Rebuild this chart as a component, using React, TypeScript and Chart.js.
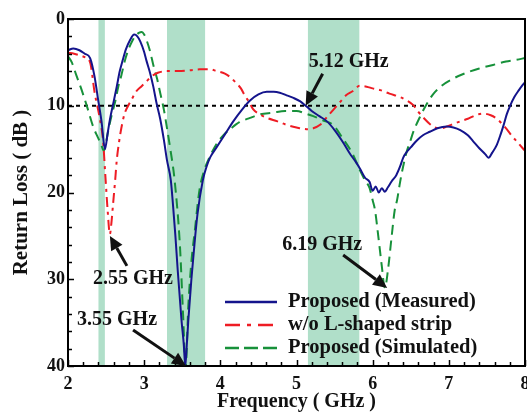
import React, { useEffect, useRef } from "react";
import { Chart, registerables } from "chart.js";

Chart.register(...registerables);

const FONT = "'Liberation Serif', 'Times New Roman', serif";
const BLUE = "#14148c";
const RED = "#ee1c24";
const GREEN = "#17913a";
const BAND = "#b0dfc9";

// ---- data ----
const xTickValues = [2, 3, 4, 5, 6, 7, 8];
const yTickValues = [0, 10, 20, 30, 40];

const measuredFreq = [
  2.0, 2.07, 2.15, 2.22, 2.29, 2.35, 2.39, 2.44, 2.485, 2.52, 2.55, 2.6, 2.64, 2.68, 2.72, 2.76, 2.81, 2.87,
  2.91, 2.95, 3.0, 3.03, 3.08, 3.12, 3.16, 3.21, 3.26, 3.3, 3.35, 3.38, 3.41, 3.44, 3.49, 3.52, 3.54, 3.56,
  3.58, 3.62, 3.66, 3.7, 3.77, 3.82, 3.87, 3.95, 4.06, 4.17, 4.28, 4.39, 4.5, 4.61, 4.7, 4.78, 4.87, 4.96,
  5.05, 5.12, 5.2, 5.3, 5.4, 5.5, 5.61, 5.7, 5.78, 5.83, 5.9, 5.96, 6.0, 6.04, 6.08, 6.12, 6.16, 6.2, 6.25,
  6.31, 6.36, 6.4, 6.45, 6.5, 6.58, 6.66, 6.75, 6.85, 6.97, 7.06, 7.15, 7.25, 7.32, 7.4, 7.48, 7.52, 7.57,
  7.63, 7.68, 7.72, 7.76, 7.8, 7.86, 7.92, 7.97, 8.0,
];
const measuredLoss = [
  3.6, 3.4, 3.6, 4.0, 4.5, 6.7, 9.0, 11.8, 15.0, 13.2, 11.6, 9.5, 7.8, 6.0, 4.7, 3.5, 2.5, 1.8,
  2.0, 2.6, 3.8, 4.8, 6.3, 7.8, 9.6, 11.5, 14.0, 16.3, 18.6, 21.6, 25.0, 28.9, 34.7, 37.5, 40.0, 37.5,
  34.7, 30.0, 26.0, 22.5, 18.6, 17.0, 15.9, 14.8, 13.3, 11.8, 10.5, 9.4, 8.7, 8.4, 8.4, 8.5, 8.8, 9.1,
  9.5, 10.0, 10.6, 11.2, 11.8, 12.8, 14.2, 15.5, 16.5, 17.2, 18.3, 18.8, 19.8, 19.3, 20.0, 19.5, 19.9, 19.4, 18.7,
  18.0, 17.0, 16.0, 15.3, 14.8, 14.0, 13.4, 13.0, 12.6, 12.4, 12.5, 12.8, 13.4, 14.1, 14.9, 15.6, 16.0, 15.4,
  14.5, 13.3, 12.2, 11.0, 10.1, 9.0, 8.2, 7.6, 7.3,
];

const noStripFreq = [
  2.0, 2.08, 2.16, 2.22, 2.29, 2.35, 2.42, 2.46, 2.49, 2.52, 2.55, 2.57, 2.59, 2.62, 2.64, 2.67, 2.7, 2.74,
  2.79, 2.84, 2.9, 2.96, 3.03, 3.1, 3.18, 3.3, 3.45, 3.6, 3.73, 3.86, 3.95, 4.06, 4.13, 4.21, 4.27, 4.32,
  4.38, 4.43, 4.52, 4.61, 4.75, 4.87, 5.0, 5.13, 5.22, 5.31, 5.4, 5.48, 5.57, 5.65, 5.74, 5.83, 5.92, 6.0,
  6.1, 6.22, 6.36, 6.45, 6.53, 6.6, 6.68, 6.75, 6.82, 6.9, 6.97, 7.06, 7.15, 7.25, 7.35, 7.45, 7.55, 7.63,
  7.7, 7.76, 7.83, 7.9, 7.97, 8.0,
];
const noStripLoss = [
  3.9, 4.0, 4.2, 4.4, 5.0, 8.5, 11.6, 14.0, 18.0, 22.0, 24.8, 23.5, 21.5, 18.5, 16.3, 14.2, 12.6, 11.0,
  10.0, 9.2, 8.3, 7.8, 7.2, 6.6, 6.2, 6.0, 6.0, 5.9, 5.8, 5.8, 6.0, 6.3, 6.7, 7.4, 8.0, 8.8,
  9.6, 10.4, 11.0, 11.4, 11.8, 12.2, 12.5, 12.7, 12.6, 12.2, 11.3, 10.5, 9.6, 8.8, 8.3, 7.7, 7.8, 8.0,
  8.2, 8.6, 9.0, 9.4, 9.9, 10.7, 11.5, 12.1, 12.5, 12.6, 12.4, 12.1, 11.8, 11.5, 11.1, 10.9, 11.1, 11.5,
  12.1, 12.7, 13.5, 14.2, 14.9, 15.2,
];

const simulatedFreq = [
  2.0, 2.05, 2.11, 2.18, 2.25, 2.33, 2.4, 2.44, 2.47, 2.5, 2.53, 2.57, 2.62, 2.66, 2.7, 2.75, 2.79, 2.84,
  2.88, 2.93, 2.97, 3.0, 3.03, 3.08, 3.12, 3.17, 3.21, 3.26, 3.3, 3.34, 3.4, 3.47, 3.51, 3.545, 3.58, 3.62,
  3.67, 3.7, 3.73, 3.79, 3.86, 3.95, 4.05, 4.13, 4.25, 4.39, 4.52, 4.69, 4.85, 5.0, 5.12, 5.22, 5.35, 5.48,
  5.61, 5.74, 5.83, 5.9, 5.96, 6.0, 6.03, 6.08, 6.12, 6.16, 6.2, 6.25, 6.29, 6.32, 6.36, 6.4, 6.45, 6.49,
  6.53, 6.62, 6.71, 6.8, 6.92, 7.05, 7.23, 7.4, 7.58, 7.75, 7.89, 8.0,
];
const simulatedLoss = [
  4.3, 5.0, 6.5, 8.2, 10.1, 12.4, 13.8, 14.6, 15.2, 14.2, 12.8, 11.2, 9.5, 7.8, 6.5, 4.7, 3.6, 2.6,
  2.0, 1.6, 1.5, 1.8, 2.4, 3.8, 5.3, 6.9, 8.5, 10.5, 12.6, 14.8, 18.6, 26.2, 33.9, 40.0, 33.0, 28.0,
  24.0, 21.5, 19.5, 17.4, 15.9, 14.4, 13.3, 12.7, 11.9, 11.4, 11.0, 10.8, 10.6, 10.6, 10.9, 11.2, 11.7, 12.2,
  13.8, 15.6, 17.4, 18.6, 19.5, 20.9, 22.0, 25.5, 28.5, 31.0, 29.0, 25.0, 22.0, 20.9, 18.8, 17.0, 15.2, 14.2,
  13.1, 11.3, 9.8, 8.6, 7.6, 6.9, 6.2, 5.7, 5.3, 4.9, 4.7, 4.5,
];

const referenceLevel = 10;

const bandStart = [2.4, 3.3, 5.15];
const bandEnd = [2.484, 3.8, 5.825];

const seriesLabels = ["Proposed (Measured)", "w/o L-shaped strip", "Proposed (Simulated)"];

const annotationText = ["5.12 GHz", "2.55 GHz", "3.55 GHz", "6.19 GHz"];
const annotationFreq = [5.12, 2.55, 3.55, 6.19];
const annotationLoss = [10, 25, 40, 31];

// ---- layout (pixel offsets from the arrow tip) ----
const annotationLayout = [
  { tail: [17, -32], label: [43, -44] },
  { tail: [17, 30], label: [23, 43] },
  { tail: [-53, -36], label: [-69, -46] },
  { tail: [-44, -33], label: [-65, -43] },
];

const toPoints = (xs: number[], ys: number[]) => xs.map((x, i) => ({ x, y: ys[i] }));

function drawArrow(ctx: CanvasRenderingContext2D, x0: number, y0: number, x1: number, y1: number) {
  const ang = Math.atan2(y1 - y0, x1 - x0);
  const headLen = 14;
  const headHalf = 6.5;
  const bx = x1 - headLen * Math.cos(ang);
  const by = y1 - headLen * Math.sin(ang);
  ctx.beginPath();
  ctx.moveTo(x0, y0);
  ctx.lineTo(bx, by);
  ctx.lineWidth = 3;
  ctx.strokeStyle = "#111";
  ctx.setLineDash([]);
  ctx.stroke();
  ctx.beginPath();
  ctx.moveTo(x1, y1);
  ctx.lineTo(bx + headHalf * Math.sin(ang), by - headHalf * Math.cos(ang));
  ctx.lineTo(bx - headHalf * Math.sin(ang), by + headHalf * Math.cos(ang));
  ctx.closePath();
  ctx.fillStyle = "#111";
  ctx.fill();
}

const decorPlugin = {
  id: "decor",
  beforeDatasetsDraw(chart: any) {
    const { ctx, chartArea, scales } = chart;
    const xs = scales.x;
    ctx.save();
    ctx.fillStyle = BAND;
    for (let i = 0; i < bandStart.length; i++) {
      const a = xs.getPixelForValue(bandStart[i]);
      const b = xs.getPixelForValue(bandEnd[i]);
      ctx.fillRect(a, chartArea.top, b - a, chartArea.bottom - chartArea.top);
    }
    ctx.restore();
  },
  afterDatasetsDraw(chart: any) {
    const { ctx, chartArea, scales } = chart;
    const xs = scales.x;
    const ys = scales.y;
    ctx.save();
    // inward ticks
    ctx.strokeStyle = "#000";
    ctx.lineWidth = 1.5;
    ctx.setLineDash([]);
    for (let v = 2; v <= 8.0001; v += 0.2) {
      const major = Math.abs(v - Math.round(v)) < 1e-6;
      const px = Math.round(xs.getPixelForValue(v)) + 0.5;
      ctx.beginPath();
      ctx.moveTo(px, chartArea.bottom);
      ctx.lineTo(px, chartArea.bottom - (major ? 6 : 4));
      ctx.stroke();
    }
    for (let v = 0; v <= 40; v += 2) {
      const major = v % 10 === 0;
      const py = Math.round(ys.getPixelForValue(v)) + 0.5;
      ctx.beginPath();
      ctx.moveTo(chartArea.left, py);
      ctx.lineTo(chartArea.left + (major ? 6 : 4), py);
      ctx.stroke();
    }
    // frame
    ctx.lineWidth = 2;
    ctx.strokeRect(chartArea.left, chartArea.top, chartArea.right - chartArea.left, chartArea.bottom - chartArea.top);

    // annotations
    ctx.font = `bold 20px ${FONT}`;
    ctx.textAlign = "center";
    ctx.textBaseline = "middle";
    for (let i = 0; i < annotationText.length; i++) {
      const tx = xs.getPixelForValue(annotationFreq[i]);
      const ty = ys.getPixelForValue(annotationLoss[i]);
      const L = annotationLayout[i];
      drawArrow(ctx, tx + L.tail[0], ty + L.tail[1], tx, ty);
      ctx.fillStyle = "#111";
      ctx.fillText(annotationText[i], tx + L.label[0], ty + L.label[1]);
    }

    // legend
    const legendDash = [[], [15, 7, 4, 7], [14, 5]];
    const lx0 = chartArea.left + 157;
    const lx1 = lx0 + 52;
    const rowY = [chartArea.bottom - 64, chartArea.bottom - 41, chartArea.bottom - 18];
    ctx.textAlign = "left";
    ctx.font = `bold 20.5px ${FONT}`;
    for (let i = 0; i < 3; i++) {
      const ds = chart.data.datasets[i];
      ctx.beginPath();
      ctx.setLineDash(legendDash[i]);
      ctx.strokeStyle = ds.borderColor;
      ctx.lineWidth = 2.5;
      ctx.moveTo(lx0, rowY[i]);
      ctx.lineTo(lx1, rowY[i]);
      ctx.stroke();
      ctx.setLineDash([]);
      ctx.fillStyle = "#111";
      ctx.fillText(seriesLabels[i], lx1 + 11, rowY[i]);
    }
    ctx.restore();
  },
};

export default function App() {
  const canvasRef = useRef<HTMLCanvasElement | null>(null);

  useEffect(() => {
    if (!canvasRef.current) return;
    const tickFont = { family: FONT, size: 18, weight: "bold" as const };
    const titleFont = { family: FONT, size: 20, weight: "bold" as const };
    const yTitleFont = { family: FONT, size: 21, weight: "bold" as const };
    const common = { pointRadius: 0, borderWidth: 2, fill: false, cubicInterpolationMode: "monotone" as const };
    const chart = new Chart(canvasRef.current, {
      type: "line",
      data: {
        datasets: [
          { label: seriesLabels[0], data: toPoints(measuredFreq, measuredLoss), borderColor: BLUE, ...common },
          { label: seriesLabels[1], data: toPoints(noStripFreq, noStripLoss), borderColor: RED, borderDash: [10, 5, 3, 5], ...common },
          { label: seriesLabels[2], data: toPoints(simulatedFreq, simulatedLoss), borderColor: GREEN, borderDash: [10, 6], ...common },
          {
            label: "ref",
            data: [{ x: 2, y: referenceLevel }, { x: 8, y: referenceLevel }],
            borderColor: "#000",
            borderDash: [4, 4],
            borderWidth: 2,
            pointRadius: 0,
          },
        ],
      },
      options: {
        animation: false,
        responsive: false,
        layout: { padding: { top: 19, right: 2, left: 0, bottom: 0 } },
        plugins: { legend: { display: false }, tooltip: { enabled: false } },
        scales: {
          x: {
            type: "linear",
            min: 2,
            max: 8,
            afterBuildTicks: (s: any) => {
              s.ticks = xTickValues.map((v) => ({ value: v }));
            },
            ticks: { font: tickFont, color: "#111", padding: 8, maxRotation: 0, autoSkip: false },
            grid: { display: false, drawTicks: false },
            border: { display: false },
            title: { display: true, text: "Frequency ( GHz )", font: titleFont, color: "#111", padding: { top: 0, bottom: 0 } },
            afterFit: (s: any) => {
              s.height = 48;
              s.paddingLeft = 0;
              s.paddingRight = 0;
            },
          },
          y: {
            type: "linear",
            min: 0,
            max: 40,
            reverse: true,
            afterBuildTicks: (s: any) => {
              s.ticks = yTickValues.map((v) => ({ value: v }));
            },
            ticks: { font: tickFont, color: "#111", padding: 3, autoSkip: false },
            grid: { display: false, drawTicks: false },
            border: { display: false },
            title: { display: true, text: "Return Loss ( dB )", font: yTitleFont, color: "#111", padding: { top: 9, bottom: 0 } },
            afterFit: (s: any) => {
              s.width = 68;
              s.paddingTop = 0;
              s.paddingBottom = 0;
            },
          },
        },
      },
      plugins: [decorPlugin],
    });
    return () => chart.destroy();
  }, []);

  return (
    <div style={{ position: "fixed", left: 0, top: 0, width: 527, height: 414, background: "#fff" }}>
      <canvas ref={canvasRef} width={527} height={414} style={{ display: "block" }} />
    </div>
  );
}
